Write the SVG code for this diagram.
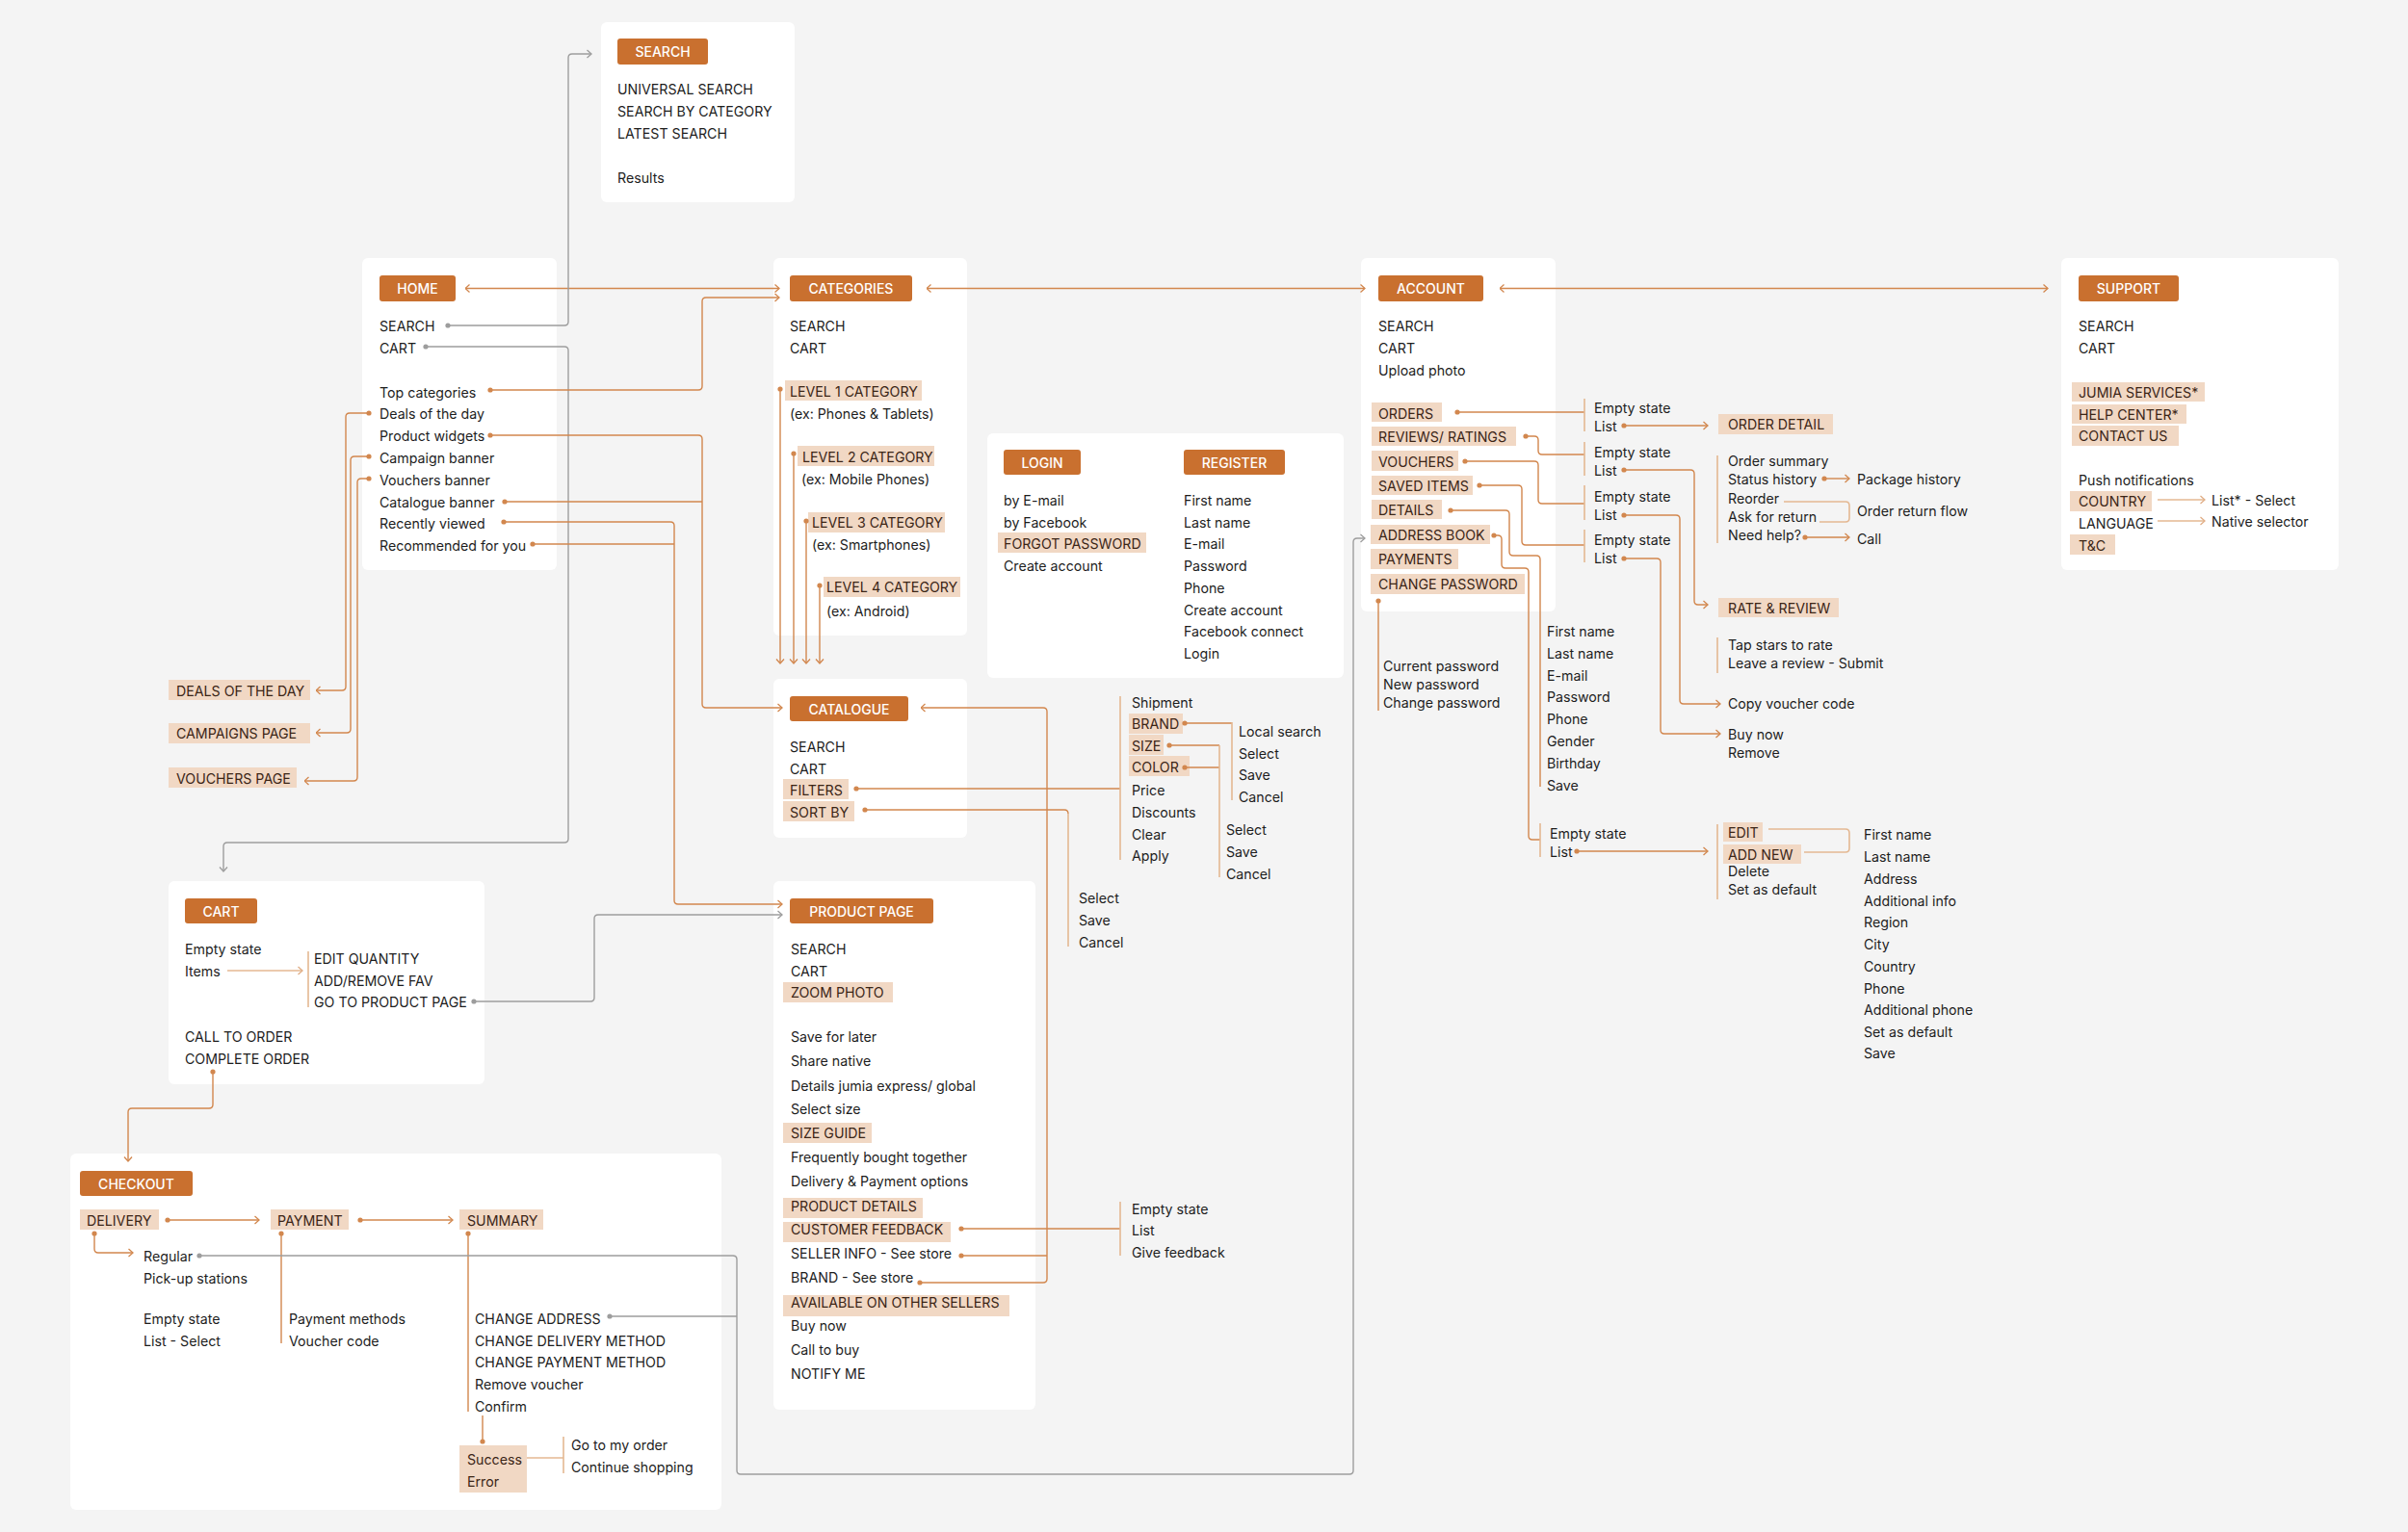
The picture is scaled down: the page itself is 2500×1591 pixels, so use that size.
<svg xmlns="http://www.w3.org/2000/svg" width="2500" height="1591" viewBox="0 0 2500 1591">
<style>
text{font-family:Inter,"Liberation Sans",sans-serif;font-size:14.2px;fill:#1d1d1d;dominant-baseline:central}
.card{fill:#fff}
.btn{fill:#c9702f}
.bt{fill:#fff;font-weight:500;text-anchor:middle;font-size:14px}
.tag{fill:#f1d8c4}
.tt{fill:#3b2516}
.c{fill:none;stroke:#d2874e;stroke-width:1.4}
.g{fill:none;stroke:#9d9d9d;stroke-width:1.4}
.br{fill:none;stroke:#e4b892;stroke-width:1.6}
</style>
<defs>
<marker id="aO" viewBox="0 0 6 10" refX="5.5" refY="5" markerWidth="6" markerHeight="10" markerUnits="userSpaceOnUse" orient="auto-start-reverse"><path d="M1,1 L5.5,5 L1,9" fill="none" stroke="#d2874e" stroke-width="1.3"/></marker>
<marker id="aG" viewBox="0 0 6 10" refX="5.5" refY="5" markerWidth="6" markerHeight="10" markerUnits="userSpaceOnUse" orient="auto-start-reverse"><path d="M1,1 L5.5,5 L1,9" fill="none" stroke="#9d9d9d" stroke-width="1.3"/></marker>
<marker id="aL" viewBox="0 0 6 10" refX="5.5" refY="5" markerWidth="6" markerHeight="10" markerUnits="userSpaceOnUse" orient="auto-start-reverse"><path d="M1,1 L5.5,5 L1,9" fill="none" stroke="#e0ad85" stroke-width="1.3"/></marker>
<marker id="dO" viewBox="0 0 6 6" refX="3" refY="3" markerWidth="6" markerHeight="6" markerUnits="userSpaceOnUse"><circle cx="3" cy="3" r="2.6" fill="#d2874e"/></marker>
<marker id="dG" viewBox="0 0 6 6" refX="3" refY="3" markerWidth="6" markerHeight="6" markerUnits="userSpaceOnUse"><circle cx="3" cy="3" r="2.6" fill="#9d9d9d"/></marker>
</defs>
<rect width="2500" height="1591" fill="#f4f4f4"/>

<g id="search">
<rect class="card" x="624" y="23" width="201" height="187" rx="6"/>
<rect class="btn" x="641" y="40" width="94" height="27" rx="3"/>
<text class="bt" x="688" y="53.5">SEARCH</text>
<text x="641" y="92">UNIVERSAL SEARCH</text>
<text x="641" y="115">SEARCH BY CATEGORY</text>
<text x="641" y="138">LATEST SEARCH</text>
<text x="641" y="184">Results</text>
</g>

<g id="home">
<rect class="card" x="376" y="268" width="202" height="324" rx="6"/>
<rect class="btn" x="394" y="286" width="79" height="27" rx="3"/>
<text class="bt" x="433.5" y="299.5">HOME</text>
<text x="394" y="338">SEARCH</text>
<text x="394" y="361">CART</text>
<text x="394" y="407">Top categories</text>
<text x="394" y="429">Deals of the day</text>
<text x="394" y="452">Product widgets</text>
<text x="394" y="475">Campaign banner</text>
<text x="394" y="498">Vouchers banner</text>
<text x="394" y="521">Catalogue banner</text>
<text x="394" y="543">Recently viewed</text>
<text x="394" y="566">Recommended for you</text>
</g>

<g id="deals-page"><rect class="tag" x="175" y="706" width="147" height="21"/><text class="tt" x="183" y="717">DEALS OF THE DAY</text></g>
<g id="campaigns-page"><rect class="tag" x="175" y="751" width="147" height="21"/><text class="tt" x="183" y="761.5">CAMPAIGNS PAGE</text></g>
<g id="vouchers-page"><rect class="tag" x="175" y="797" width="133" height="21"/><text class="tt" x="183" y="808">VOUCHERS PAGE</text></g>

<g id="categories">
<rect class="card" x="803" y="268" width="201" height="392" rx="6"/>
<rect class="btn" x="820" y="286" width="127" height="27" rx="3"/>
<text class="bt" x="883.5" y="299.5">CATEGORIES</text>
<text x="820" y="338">SEARCH</text>
<text x="820" y="361">CART</text>
<rect class="tag" x="815" y="395" width="142" height="21"/><text class="tt" x="820" y="406">LEVEL 1 CATEGORY</text>
<text x="820" y="429">(ex: Phones &amp; Tablets)</text>
<rect class="tag" x="828" y="463" width="142" height="21"/><text class="tt" x="833" y="474">LEVEL 2 CATEGORY</text>
<text x="832" y="497">(ex: Mobile Phones)</text>
<rect class="tag" x="839" y="532" width="142" height="21"/><text class="tt" x="843" y="542.5">LEVEL 3 CATEGORY</text>
<text x="843" y="565">(ex: Smartphones)</text>
<rect class="tag" x="855" y="599" width="142" height="21"/><text class="tt" x="858" y="609.5">LEVEL 4 CATEGORY</text>
<text x="858" y="634">(ex: Android)</text>
</g>

<g id="login-register">
<rect class="card" x="1025" y="450" width="370" height="254" rx="6"/>
<rect class="btn" x="1042" y="467" width="80" height="26" rx="3"/>
<text class="bt" x="1082" y="480">LOGIN</text>
<rect class="btn" x="1229" y="467" width="105" height="26" rx="3"/>
<text class="bt" x="1281.5" y="480">REGISTER</text>
<text x="1042" y="519">by E-mail</text>
<text x="1042" y="542">by Facebook</text>
<rect class="tag" x="1036" y="553" width="154" height="21"/><text class="tt" x="1042" y="564">FORGOT PASSWORD</text>
<text x="1042" y="587">Create account</text>
<text x="1229" y="519">First name</text>
<text x="1229" y="542">Last name</text>
<text x="1229" y="564">E-mail</text>
<text x="1229" y="587">Password</text>
<text x="1229" y="610">Phone</text>
<text x="1229" y="633">Create account</text>
<text x="1229" y="655">Facebook connect</text>
<text x="1229" y="678">Login</text>
</g>

<g id="account">
<rect class="card" x="1413" y="268" width="202" height="367" rx="6"/>
<rect class="btn" x="1431" y="286" width="109" height="27" rx="3"/>
<text class="bt" x="1485.5" y="299.5">ACCOUNT</text>
<text x="1431" y="338">SEARCH</text>
<text x="1431" y="361">CART</text>
<text x="1431" y="384">Upload photo</text>
<rect class="tag" x="1424" y="418" width="73" height="20"/><text class="tt" x="1431" y="429">ORDERS</text>
<rect class="tag" x="1424" y="443" width="150" height="20"/><text class="tt" x="1431" y="453.5">REVIEWS/ RATINGS</text>
<rect class="tag" x="1424" y="468" width="90" height="21"/><text class="tt" x="1431" y="479">VOUCHERS</text>
<rect class="tag" x="1424" y="494" width="105" height="20"/><text class="tt" x="1431" y="504.5">SAVED ITEMS</text>
<rect class="tag" x="1424" y="519" width="73" height="20"/><text class="tt" x="1431" y="529.5">DETAILS</text>
<rect class="tag" x="1423" y="545" width="124" height="20"/><text class="tt" x="1431" y="555">ADDRESS BOOK</text>
<rect class="tag" x="1423" y="570" width="91" height="21"/><text class="tt" x="1431" y="580.5">PAYMENTS</text>
<rect class="tag" x="1423" y="596" width="160" height="21"/><text class="tt" x="1431" y="606">CHANGE PASSWORD</text>
</g>

<g id="change-password">
<text x="1436" y="691">Current password</text>
<text x="1436" y="710">New password</text>
<text x="1436" y="729.5">Change password</text>
</g>

<g id="support">
<rect class="card" x="2140" y="268" width="288" height="324" rx="6"/>
<rect class="btn" x="2158" y="286" width="104" height="27" rx="3"/>
<text class="bt" x="2210" y="299.5">SUPPORT</text>
<text x="2158" y="338">SEARCH</text>
<text x="2158" y="361">CART</text>
<rect class="tag" x="2151" y="397" width="138" height="20"/><text class="tt" x="2158" y="407">JUMIA SERVICES*</text>
<rect class="tag" x="2151" y="420" width="119" height="20"/><text class="tt" x="2158" y="430">HELP CENTER*</text>
<rect class="tag" x="2151" y="442" width="111" height="21"/><text class="tt" x="2158" y="452.5">CONTACT US</text>
<text x="2158" y="498">Push notifications</text>
<rect class="tag" x="2149" y="510" width="85" height="21"/><text class="tt" x="2158" y="520.5">COUNTRY</text>
<text x="2296" y="519">List* - Select</text>
<text x="2158" y="543">LANGUAGE</text>
<text x="2296" y="541">Native selector</text>
<rect class="tag" x="2149" y="555" width="47" height="21"/><text class="tt" x="2158" y="566">T&amp;C</text>
</g>

<g id="orders-sub">
<text x="1655" y="423">Empty state</text>
<text x="1655" y="442">List</text>
<text x="1655" y="469">Empty state</text>
<text x="1655" y="488">List</text>
<text x="1655" y="515">Empty state</text>
<text x="1655" y="534">List</text>
<text x="1655" y="560">Empty state</text>
<text x="1655" y="579">List</text>
</g>

<g id="order-detail">
<rect class="tag" x="1784" y="430" width="119" height="21"/><text class="tt" x="1794" y="440.5">ORDER DETAIL</text>
<text x="1794" y="478">Order summary</text>
<text x="1794" y="497">Status history</text>
<text x="1794" y="517">Reorder</text>
<text x="1794" y="536">Ask for return</text>
<text x="1794" y="555">Need help?</text>
<text x="1928" y="497">Package history</text>
<text x="1928" y="530">Order return flow</text>
<text x="1928" y="559">Call</text>
</g>

<g id="rate-review">
<rect class="tag" x="1784" y="621" width="125" height="20"/><text class="tt" x="1794" y="631">RATE &amp; REVIEW</text>
<text x="1794" y="669">Tap stars to rate</text>
<text x="1794" y="688">Leave a review - Submit</text>
</g>

<g id="voucher-code"><text x="1794" y="730">Copy voucher code</text></g>
<g id="saved-actions"><text x="1794" y="762">Buy now</text><text x="1794" y="781">Remove</text></g>

<g id="details-form">
<text x="1606" y="655">First name</text>
<text x="1606" y="678">Last name</text>
<text x="1606" y="701">E-mail</text>
<text x="1606" y="723">Password</text>
<text x="1606" y="746">Phone</text>
<text x="1606" y="769">Gender</text>
<text x="1606" y="792">Birthday</text>
<text x="1606" y="815">Save</text>
</g>

<g id="address-list">
<text x="1609" y="865">Empty state</text>
<text x="1609" y="884">List</text>
</g>

<g id="address-actions">
<rect class="tag" x="1789" y="854" width="41" height="20"/><text class="tt" x="1794" y="864">EDIT</text>
<rect class="tag" x="1789" y="877" width="81" height="20"/><text class="tt" x="1794" y="887">ADD NEW</text>
<text x="1794" y="904">Delete</text>
<text x="1794" y="923">Set as default</text>
</g>

<g id="address-form">
<text x="1935" y="866">First name</text>
<text x="1935" y="889">Last name</text>
<text x="1935" y="912">Address</text>
<text x="1935" y="935">Additional info</text>
<text x="1935" y="957">Region</text>
<text x="1935" y="980">City</text>
<text x="1935" y="1003">Country</text>
<text x="1935" y="1026">Phone</text>
<text x="1935" y="1048">Additional phone</text>
<text x="1935" y="1071">Set as default</text>
<text x="1935" y="1093">Save</text>
</g>

<g id="catalogue">
<rect class="card" x="803" y="705" width="201" height="165" rx="6"/>
<rect class="btn" x="820" y="723" width="123" height="26" rx="3"/>
<text class="bt" x="881.5" y="736">CATALOGUE</text>
<text x="820" y="775">SEARCH</text>
<text x="820" y="798">CART</text>
<rect class="tag" x="813" y="809" width="68" height="21"/><text class="tt" x="820" y="820">FILTERS</text>
<rect class="tag" x="813" y="832" width="74" height="21"/><text class="tt" x="820" y="843">SORT BY</text>
</g>

<g id="filters">
<text x="1175" y="729">Shipment</text>
<rect class="tag" x="1172" y="741" width="56" height="21"/><text class="tt" x="1175" y="751.5">BRAND</text>
<rect class="tag" x="1172" y="763" width="36" height="21"/><text class="tt" x="1175" y="774">SIZE</text>
<rect class="tag" x="1172" y="785" width="63" height="21"/><text class="tt" x="1175" y="796">COLOR</text>
<text x="1175" y="820">Price</text>
<text x="1175" y="843">Discounts</text>
<text x="1175" y="866">Clear</text>
<text x="1175" y="888">Apply</text>
</g>

<g id="brand-filter">
<text x="1286" y="759">Local search</text>
<text x="1286" y="782">Select</text>
<text x="1286" y="804">Save</text>
<text x="1286" y="827">Cancel</text>
</g>

<g id="size-color-filter">
<text x="1273" y="861">Select</text>
<text x="1273" y="884">Save</text>
<text x="1273" y="907">Cancel</text>
</g>

<g id="sort-by">
<text x="1120" y="932">Select</text>
<text x="1120" y="955">Save</text>
<text x="1120" y="978">Cancel</text>
</g>

<g id="product-page">
<rect class="card" x="803" y="915" width="272" height="549" rx="6"/>
<rect class="btn" x="820" y="933" width="149" height="26" rx="3"/>
<text class="bt" x="894.5" y="946">PRODUCT PAGE</text>
<text x="821" y="985">SEARCH</text>
<text x="821" y="1008">CART</text>
<rect class="tag" x="813" y="1020" width="114" height="21"/><text class="tt" x="821" y="1030.5">ZOOM PHOTO</text>
<text x="821" y="1076">Save for later</text>
<text x="821" y="1101">Share native</text>
<text x="821" y="1127">Details jumia express/ global</text>
<text x="821" y="1151.5">Select size</text>
<rect class="tag" x="813" y="1166" width="92" height="21"/><text class="tt" x="821" y="1176">SIZE GUIDE</text>
<text x="821" y="1201.5">Frequently bought together</text>
<text x="821" y="1226.5">Delivery &amp; Payment options</text>
<rect class="tag" x="813" y="1244" width="145" height="21"/><text class="tt" x="821" y="1252">PRODUCT DETAILS</text>
<rect class="tag" x="813" y="1269" width="174" height="21"/><text class="tt" x="821" y="1276.5">CUSTOMER FEEDBACK</text>
<text x="821" y="1301.5">SELLER INFO - See store</text>
<text x="821" y="1326.5">BRAND - See store</text>
<rect class="tag" x="813" y="1345" width="235" height="22"/><text class="tt" x="821" y="1352">AVAILABLE ON OTHER SELLERS</text>
<text x="821" y="1376">Buy now</text>
<text x="821" y="1401">Call to buy</text>
<text x="821" y="1426">NOTIFY ME</text>
</g>

<g id="customer-feedback">
<text x="1175" y="1255">Empty state</text>
<text x="1175" y="1277">List</text>
<text x="1175" y="1300">Give feedback</text>
</g>

<g id="cart">
<rect class="card" x="175" y="915" width="328" height="211" rx="6"/>
<rect class="btn" x="192" y="933" width="75" height="26" rx="3"/>
<text class="bt" x="229.5" y="946">CART</text>
<text x="192" y="985">Empty state</text>
<text x="192" y="1008">Items</text>
<text x="326" y="995">EDIT QUANTITY</text>
<text x="326" y="1018">ADD/REMOVE FAV</text>
<text x="326" y="1040">GO TO PRODUCT PAGE</text>
<text x="192" y="1076">CALL TO ORDER</text>
<text x="192" y="1099">COMPLETE ORDER</text>
</g>

<g id="checkout">
<rect class="card" x="73" y="1198" width="676" height="370" rx="6"/>
<rect class="btn" x="83" y="1216" width="117" height="26" rx="3"/>
<text class="bt" x="141.5" y="1229">CHECKOUT</text>
<rect class="tag" x="83" y="1256" width="82" height="21"/><text class="tt" x="90" y="1267">DELIVERY</text>
<rect class="tag" x="281" y="1256" width="81" height="21"/><text class="tt" x="288" y="1267">PAYMENT</text>
<rect class="tag" x="477" y="1256" width="87" height="21"/><text class="tt" x="485" y="1267">SUMMARY</text>
<text x="149" y="1304">Regular</text>
<text x="149" y="1327">Pick-up stations</text>
<text x="149" y="1369">Empty state</text>
<text x="149" y="1392">List - Select</text>
<text x="300" y="1369">Payment methods</text>
<text x="300" y="1392">Voucher code</text>
<text x="493" y="1369">CHANGE ADDRESS</text>
<text x="493" y="1392">CHANGE DELIVERY METHOD</text>
<text x="493" y="1414">CHANGE PAYMENT METHOD</text>
<text x="493" y="1437">Remove voucher</text>
<text x="493" y="1460">Confirm</text>
<rect class="tag" x="477" y="1501" width="70" height="49"/>
<text class="tt" x="485" y="1515.5">Success</text>
<text class="tt" x="485" y="1538">Error</text>
<text x="593" y="1500">Go to my order</text>
<text x="593" y="1523">Continue shopping</text>
</g>

<g id="connectors">
<path class="c" d="M483,299.5 H809" marker-start="url(#aO)" marker-end="url(#aO)"/>
<path class="c" d="M962,299.5 H1417" marker-start="url(#aO)" marker-end="url(#aO)"/>
<path class="c" d="M1557,299.5 H2126" marker-start="url(#aO)" marker-end="url(#aO)"/>
<path class="g" d="M465,338 H586 Q590,338 590,334 V60 Q590,56 594,56 H614" marker-start="url(#dG)" marker-end="url(#aG)"/>
<path class="g" d="M442,360 H586 Q590,360 590,364 V871 Q590,875 586,875 H236 Q232,875 232,879 V905" marker-start="url(#dG)" marker-end="url(#aG)"/>
<path class="c" d="M509,405 H725 Q729,405 729,401 V313 Q729,309 733,309 H809" marker-start="url(#dO)" marker-end="url(#aO)"/>
<path class="c" d="M509,452 H725 Q729,452 729,456 V731 Q729,735 733,735 H812" marker-start="url(#dO)" marker-end="url(#aO)"/>
<path class="c" d="M524,521 H729" marker-start="url(#dO)"/>
<path class="c" d="M523,542 H696 Q700,542 700,546 V935 Q700,939 704,939 H812" marker-start="url(#dO)" marker-end="url(#aO)"/>
<path class="c" d="M553,565 H700" marker-start="url(#dO)"/>
<path class="c" d="M383,429 H363 Q359,429 359,433 V713 Q359,717 355,717 H328" marker-start="url(#dO)" marker-end="url(#aO)"/>
<path class="c" d="M383,474 H368 Q364,474 364,478 V757 Q364,761 360,761 H328" marker-start="url(#dO)" marker-end="url(#aO)"/>
<path class="c" d="M383,497 H375 Q371,497 371,501 V807 Q371,811 367,811 H316" marker-start="url(#dO)" marker-end="url(#aO)"/>
<path class="c" d="M810,404 V689" marker-start="url(#dO)" marker-end="url(#aO)"/>
<path class="c" d="M824,471 V689" marker-start="url(#dO)" marker-end="url(#aO)"/>
<path class="c" d="M837,541 V689" marker-start="url(#dO)" marker-end="url(#aO)"/>
<path class="c" d="M851,608 V689" marker-start="url(#dO)" marker-end="url(#aO)"/>
<path class="c" d="M889,819 H1163" marker-start="url(#dO)"/>
<path class="br" d="M1163,723 V893"/>
<path class="c" d="M1230,751 H1279" marker-start="url(#dO)"/>
<path class="br" d="M1279,750 V831"/>
<path class="c" d="M1214,774 H1266" marker-start="url(#dO)"/>
<path class="c" d="M1230,797 H1266" marker-start="url(#dO)"/>
<path class="br" d="M1266,774 V911"/>
<path class="c" d="M898,841 H1105 Q1109,841 1109,845" marker-start="url(#dO)"/>
<path class="br" d="M1109,845 V983"/>
<path class="c" d="M955,1332 H1083 Q1087,1332 1087,1328 V739 Q1087,735 1083,735 H956" marker-start="url(#dO)" marker-end="url(#aO)"/>
<path class="c" d="M998,1304 H1087" marker-start="url(#dO)"/>
<path class="c" d="M998,1276 H1163" marker-start="url(#dO)"/>
<path class="br" d="M1163,1248 V1304"/>
<path class="br" d="M236,1008 H314" marker-end="url(#aL)"/>
<path class="br" d="M320,988 V1046"/>
<path class="g" d="M492,1040 H613 Q617,1040 617,1036 V954 Q617,950 621,950 H812" marker-start="url(#dG)" marker-end="url(#aG)"/>
<path class="c" d="M221,1113 V1147 Q221,1151 217,1151 H137 Q133,1151 133,1155 V1206" marker-start="url(#dO)" marker-end="url(#aO)"/>
<path class="c" d="M174,1267 H269" marker-start="url(#dO)" marker-end="url(#aO)"/>
<path class="c" d="M374,1267 H470" marker-start="url(#dO)" marker-end="url(#aO)"/>
<path class="c" d="M98,1281 V1297 Q98,1301 102,1301 H138" marker-start="url(#dO)" marker-end="url(#aO)"/>
<path class="c" d="M292,1281 V1395" marker-start="url(#dO)"/>
<path class="c" d="M486,1281 V1466" marker-start="url(#dO)"/>
<path class="c" d="M501,1470 V1497" marker-end="url(#dO)"/>
<path class="br" d="M547,1514 H585"/>
<path class="br" d="M585,1492 V1530"/>
<path class="g" d="M207,1304 H761 Q765,1304 765,1308 V1527 Q765,1531 769,1531 H1401 Q1405,1531 1405,1527 V563 Q1405,559 1409,559 H1417" marker-start="url(#dG)" marker-end="url(#aG)"/>
<path class="g" d="M633,1367 H765" marker-start="url(#dG)"/>
<path class="c" d="M1431,624 V738" marker-start="url(#dO)"/>
<path class="c" d="M1513,428 H1645" marker-start="url(#dO)"/>
<path class="c" d="M1584,453 H1593 Q1597,453 1597,457 V468 Q1597,472 1601,472 H1645" marker-start="url(#dO)"/>
<path class="c" d="M1521,479 H1593 Q1597,479 1597,483 V519 Q1597,523 1601,523 H1645" marker-start="url(#dO)"/>
<path class="c" d="M1536,504 H1576 Q1580,504 1580,508 V562 Q1580,566 1584,566 H1645" marker-start="url(#dO)"/>
<path class="c" d="M1506,530 H1563 Q1567,530 1567,534 V573 Q1567,577 1571,577 H1595 Q1599,577 1599,581 V817" marker-start="url(#dO)"/>
<path class="c" d="M1551,556 H1555 Q1559,556 1559,560 V586 Q1559,590 1563,590 H1583 Q1587,590 1587,594 V868 Q1587,872 1591,872 H1599" marker-start="url(#dO)"/>
<path class="br" d="M1645,414 V448 M1645,459 V494 M1645,504 V540 M1645,550 V584"/>
<path class="br" d="M1599,855 V890"/>
<path class="c" d="M1686,442 H1773" marker-start="url(#dO)" marker-end="url(#aO)"/>
<path class="c" d="M1686,488 H1755 Q1759,488 1759,492 V624 Q1759,628 1763,628 H1773" marker-start="url(#dO)" marker-end="url(#aO)"/>
<path class="c" d="M1686,535 H1740 Q1744,535 1744,539 V727 Q1744,731 1748,731 H1786" marker-start="url(#dO)" marker-end="url(#aO)"/>
<path class="c" d="M1686,580 H1720 Q1724,580 1724,584 V758 Q1724,762 1728,762 H1786" marker-start="url(#dO)" marker-end="url(#aO)"/>
<path class="c" d="M1637,884 H1773" marker-start="url(#dO)" marker-end="url(#aO)"/>
<path class="br" d="M1783,473 V564 M1783,662 V699 M1783,856 V934"/>
<path class="c" d="M1894,497 H1920" marker-start="url(#dO)" marker-end="url(#aO)"/>
<path class="br" d="M1852,521 H1916 Q1920,521 1920,525 V538 Q1920,542 1916,542 H1889"/>
<path class="c" d="M1874,558 H1920" marker-start="url(#dO)" marker-end="url(#aO)"/>
<path class="br" d="M1836,861 H1916 Q1920,861 1920,865 V881 Q1920,885 1916,885 H1873"/>
<path class="br" d="M2240,519 H2289" marker-end="url(#aL)"/>
<path class="br" d="M2240,541 H2289" marker-end="url(#aL)"/>
</g>
</svg>
